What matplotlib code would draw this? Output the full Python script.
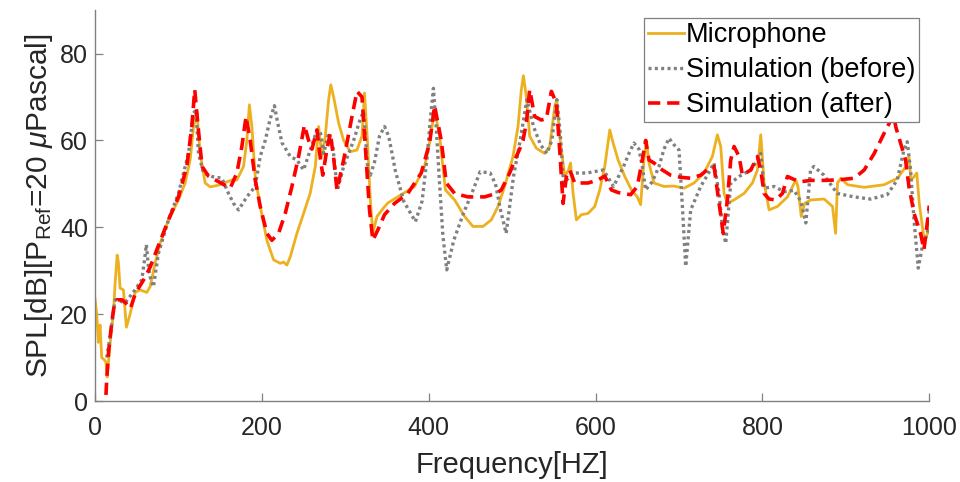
import matplotlib
matplotlib.use("Agg")
import matplotlib.pyplot as plt

# ─── Data ────────────────────────────────────────────────
mic_f = [0, 2, 4, 6, 8, 11, 13, 14.5, 17, 20, 22, 24, 26.5, 28, 30, 34, 37.6, 42, 48, 54,
         62, 66, 72, 78, 88, 100, 108, 114, 118, 122, 126, 132, 138, 148, 164, 170, 178, 182,
         185, 188, 192, 198, 206, 214, 222, 226, 230, 234, 242, 250, 258, 264, 268, 272, 276,
         280, 282.6, 286, 292, 298, 306, 314, 320, 323, 326.5, 330, 333, 338, 346, 351, 367,
         383, 395, 401, 407, 413, 420, 431, 443, 453, 465, 475, 483, 491, 501, 507, 511, 513.5,
         517, 521, 529, 539, 545, 551, 553.5, 557, 563, 567.5, 570, 573, 577, 583, 591, 599,
         605, 611, 617, 621, 627, 635, 643, 650, 654, 658, 661, 664, 670, 682, 694, 706, 718,
         730, 740, 746, 750, 754, 758, 766, 778, 788, 794, 798, 802, 808, 818, 830, 840, 842.6,
         846.5, 850.5, 858, 874, 884, 887.7, 890, 894, 902, 922, 946, 962, 972, 975.6, 978,
         982, 985, 988, 994, 998, 1000]
mic_db = [23.5, 20, 13.5, 17.5, 10, 9.5, 9, 5.5, 11, 17, 20, 27, 33.6, 32, 26, 25.6, 17, 20,
          25, 25.6, 25, 26.3, 31.7, 36.3, 41.7, 46.3, 50.2, 55.5, 63, 66.6, 57, 50.2, 49.3,
          49.7, 50.9, 50.9, 54, 60, 68.2, 63.2, 51.7, 44.8, 37, 32.5, 31.7, 32, 31.3, 33.2,
          38.6, 43.2, 47.9, 54, 63.2, 56.3, 61, 69.4, 72.8, 70, 64, 60, 57.4, 57.8, 61, 70.9,
          60, 46.3, 38.7, 42.5, 44.5, 45.6, 47.5, 49.4, 54, 59.4, 67, 61, 48.6, 46.3, 42.5,
          40.2, 40.2, 41.7, 44.8, 49.4, 56.3, 63.2, 71.7, 74.9, 70, 61, 58.2, 57, 58.6, 67.8,
          69.4, 61, 51.7, 53.2, 54.8, 47.9, 41.7, 42.9, 43.2, 44.8, 48.6, 54, 62.4, 59.4, 55.5,
          51.7, 48.6, 47, 45.2, 55.5, 60, 54.8, 50.2, 49.4, 49.5, 49, 50.2, 52.5, 56.3, 61.3,
          58.6, 47.8, 45.5, 46.3, 47.8, 50.2, 53.2, 61.3, 50.2, 44, 44.8, 47, 50.9, 49.4, 42.5,
          45.5, 46.3, 46.5, 44.8, 38.6, 50.2, 51.3, 49.8, 49.2, 49.8, 51.3, 54, 56.3, 50.9,
          51.7, 52.5, 45.5, 37, 38.6, 40]

before_f = [14, 18, 24, 30, 36, 48, 56, 59, 61.5, 64, 66, 70, 76, 88, 100, 112, 118, 121, 124,
            130, 140, 152, 160, 166, 172, 182, 192, 198, 204, 210, 215, 219, 224, 234, 242, 250,
            258, 266, 270, 274, 280, 285, 290.5, 298, 310, 318, 322, 327, 330, 335, 341, 347,
            352, 360, 370, 384, 392, 398, 402, 405.6, 409, 413, 417, 421.6, 430, 441.6, 452,
            461.6, 473.6, 480, 486, 492.8, 501.6, 509.6, 517.6, 525.6, 534, 541.6, 547.6, 553.6,
            557.6, 561.6, 573.6, 589.6, 609.5, 621.5, 633.5, 640, 646, 652, 656, 660, 668, 676,
            682, 688, 694, 700, 704, 708, 714, 726, 734, 742, 748, 752, 756, 762, 772, 786, 794,
            798, 802, 814, 826, 838, 846, 852, 857.7, 861.7, 873.7, 889.7, 909.7, 929.7, 949.6,
            961.6, 969.6, 973.6, 977.6, 981.7, 986.8, 991.6, 997.6, 1000]
before_db = [10, 14.7, 23.3, 23, 22.6, 25.6, 27.9, 32, 36, 31, 28.6, 26.3, 34, 41.7, 47.8, 57,
             66.3, 67, 57, 52.5, 51.7, 51.3, 47.8, 45.5, 44, 47, 49.4, 56.3, 60, 65, 68, 64,
             59.5, 56.3, 55.5, 53.2, 57.8, 62.4, 62, 57, 61.7, 58.6, 48.6, 54, 60, 65, 66.6, 53,
             52, 55, 61, 63.2, 61, 53, 46, 41.3, 46, 56, 65, 72, 63, 50, 38, 30.2, 37, 43.2, 48,
             52.8, 52.5, 50, 44, 38.6, 51.7, 60, 69.4, 63.2, 59, 57, 60, 69.4, 61.7, 50.2, 52.5,
             52.5, 53.2, 49.4, 54, 57, 59.4, 58, 54, 48.6, 50.5, 54, 58, 60.5, 59, 57.8, 45, 31,
             44, 49.4, 52, 54.8, 47.8, 40, 36.3, 50.2, 51.7, 53.2, 55.5, 57, 49, 49.4, 48.2,
             48.5, 46, 41, 53.2, 54, 52, 47.8, 47, 46.5, 47.5, 50.9, 57.8, 59.7, 53.2, 41.7,
             30.6, 35.5, 38.6, 44]

after_f = [12, 14, 16.4, 20.4, 23, 26.4, 32.4, 37, 42.4, 48.4, 54.4, 60.4, 66.4, 76.4, 88, 100,
           110, 116, 119.5, 123.5, 128.3, 136.3, 148, 162, 170, 176, 181, 186, 192, 198, 206,
           212, 220, 228, 236, 244, 251, 256, 260, 266, 270, 273, 278, 282, 286, 290, 298, 308,
           314, 320, 325, 329, 333, 339, 347, 359, 375, 391, 401, 407, 415, 421, 431, 447, 467,
           481, 487, 497, 505, 509, 513, 517, 521, 527, 535, 541, 547, 553, 557, 561, 565, 569,
           575, 591, 603, 611, 619, 627, 642, 650, 656, 660, 664, 670, 680, 690, 702, 714, 726,
           736, 742, 748, 753, 758, 762, 766, 772, 776, 786, 794, 798, 802, 808, 816, 824, 830,
           838, 846, 858, 874, 890, 910, 922, 934, 946, 954, 957, 960, 965.6, 971.6, 975.6,
           981.7, 989.6, 993.6, 997.6, 1000]
after_db = [-3, 5, 11.7, 18.7, 22, 23.3, 23.3, 22.5, 21.3, 24.8, 26.7, 28.6, 31, 36, 41.7, 47,
            54, 63.2, 71.7, 63.2, 54, 51.7, 50.5, 49, 52.5, 58.6, 65.5, 60, 50.9, 44.8, 38.6, 37,
            38.6, 43.2, 49.4, 56.3, 63.5, 60, 58, 62.4, 56, 52, 58, 61.7, 56, 48.6, 55.5, 65.5,
            71.3, 70, 55.5, 44, 37, 39.4, 42.9, 45.5, 47.8, 52.5, 59.4, 68, 60, 50.2, 47.8, 47,
            47, 47.8, 48.6, 52.5, 56.3, 58, 60, 64, 71.7, 65.5, 64.7, 65, 71.3, 68.6, 57.8, 45.5,
            51.7, 53.2, 50.2, 50.2, 50.9, 51.8, 48.6, 48, 47.5, 49.4, 55.5, 60, 55.5, 54.8, 53.2,
            52, 51.5, 51.3, 52, 53.6, 54, 45.5, 38.6, 46.3, 55.5, 58.6, 56.3, 52, 53.2, 56.3,
            53.2, 47.8, 46.5, 46.3, 47.8, 51.7, 51, 50.5, 50.8, 50.8, 50.9, 51.3, 53.2, 57, 61.7,
            64.7, 66, 63, 59.4, 55.5, 49.4, 43.2, 38.6, 34.8, 41, 45]

labels = ["Microphone", "Simulation (before)", "Simulation (after)"]
x_ticks = [0, 200, 400, 600, 800, 1000]
y_ticks = [0, 20, 40, 60, 80]

# ─── Styling ─────────────────────────────────────────────
plt.rcParams["font.family"] = ["Liberation Sans", "DejaVu Sans"]
plt.rcParams["mathtext.fontset"] = "custom"
plt.rcParams["mathtext.rm"] = "Liberation Sans"
plt.rcParams["mathtext.it"] = "Liberation Sans:italic"

fig = plt.figure(figsize=(9.6, 4.82), dpi=100)
ax = fig.add_axes([0.099, 0.168, 0.869, 0.811])

ax.plot(mic_f, mic_db, color="#EDB120", lw=2.0, label=labels[0])
ax.plot(before_f, before_db, color="#808080", lw=2.4, linestyle=(0, (0.9, 1.0)),
        label=labels[1])
ax.plot(after_f, after_db, color="#FF0000", lw=2.6, linestyle=(0, (3.4, 1.9)),
        label=labels[2])

ax.set_xlim(0, 1000)
ax.set_ylim(0, 90)
ax.set_xticks(x_ticks)
ax.set_yticks(y_ticks)

for side in ("top", "right"):
    ax.spines[side].set_visible(False)
for side in ("left", "bottom"):
    ax.spines[side].set_color("#808080")
    ax.spines[side].set_linewidth(1.0)

ax.tick_params(direction="in", length=6, width=0.9, color="#808080",
               labelsize=18, labelcolor="#262626")
ax.tick_params(axis="x", pad=11)
ax.tick_params(axis="y", pad=5)

ax.set_xlabel("Frequency[HZ]", fontsize=21, color="#262626", labelpad=8)
ax.set_ylabel(r"SPL[dB][P$_{\mathrm{Ref}}$=20 $\mu$Pascal]", fontsize=21.5,
              color="#262626", labelpad=4)

leg = ax.legend(loc="upper right", bbox_to_anchor=(0.988, 0.98), borderaxespad=0,
                fontsize=19.5, handlelength=1.35, handletextpad=0.05, labelspacing=0.34,
                borderpad=0.15, fancybox=False, framealpha=1, edgecolor="#808080")
leg.get_frame().set_linewidth(0.9)

fig.savefig("out.png", dpi=100)
